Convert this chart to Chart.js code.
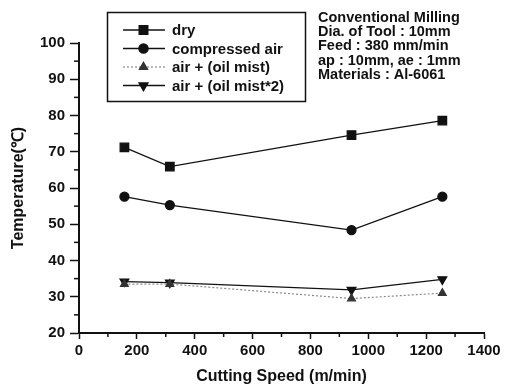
<!DOCTYPE html>
<html>
<head>
<meta charset="utf-8">
<script src="https://cdn.jsdelivr.net/npm/chart.js@4/dist/chart.umd.min.js"></script>
<style>
  body { margin: 0; background: #fff; }
  #grafico { display: block; }
</style>
</head>
<body>
<canvas id="grafico" width="506" height="388"></canvas>
<script>
// datos
const velocidades = [157, 314, 942, 1256];
const seco = [71.2, 65.9, 74.6, 78.6];
const aireComprimido = [57.6, 55.3, 48.4, 57.6];
const nieblaAceite = [33.5, 33.5, 29.5, 31.0];
const nieblaAceite2 = [34.2, 33.9, 31.9, 34.8];
const etiquetas = ["dry", "compressed air", "air + (oil mist)", "air + (oil mist*2)"];
const notas = ["Conventional Milling", "Dia. of Tool : 10mm", "Feed : 380 mm/min", "ap : 10mm, ae : 1mm", "Materials : Al-6061"];
const ticksX = [0, 200, 400, 600, 800, 1000, 1200, 1400];
const ticksY = [20, 30, 40, 50, 60, 70, 80, 90, 100];

const fuente = "'Liberation Sans', Arial, sans-serif";
const negro = "#111";

function serie(valores) {
  return valores.map((v, i) => ({ x: velocidades[i], y: v }));
}

const datasets = [
  { label: etiquetas[0], data: serie(seco), borderColor: negro, backgroundColor: negro,
    borderWidth: 1.3, pointStyle: "rect", pointRadius: 6, pointRotation: 0 },
  { label: etiquetas[1], data: serie(aireComprimido), borderColor: negro, backgroundColor: negro,
    borderWidth: 1.3, pointStyle: "circle", pointRadius: 4.5, pointRotation: 0 },
  { label: etiquetas[2], data: serie(nieblaAceite), borderColor: "#8a8a8a", backgroundColor: "#333",
    pointBorderColor: "#333", borderWidth: 1.2, borderDash: [2, 2], pointStyle: "triangle", pointRadius: 4.5, pointRotation: 0 },
  { label: etiquetas[3], data: serie(nieblaAceite2), borderColor: negro, backgroundColor: negro,
    borderWidth: 1.3, pointStyle: "triangle", pointRadius: 5, pointRotation: 180 }
];

// marcas menores de los ejes + leyenda + notas
const extras = {
  id: "extras",
  afterDraw(chart) {
    const c = chart.ctx;
    const sx = chart.scales.x;
    const sy = chart.scales.y;
    c.save();
    c.strokeStyle = negro;
    c.lineWidth = 1.5;
    // menores eje x
    for (let v = 100; v < 1400; v += 200) {
      const px = sx.getPixelForValue(v);
      c.beginPath();
      c.moveTo(px, sx.top);
      c.lineTo(px, sx.top + 4);
      c.stroke();
    }
    // menores eje y
    for (let v = 25; v < 100; v += 10) {
      const py = sy.getPixelForValue(v);
      c.beginPath();
      c.moveTo(sy.right, py);
      c.lineTo(sy.right - 5, py);
      c.stroke();
    }

    // leyenda
    c.lineWidth = 1.5;
    c.strokeRect(107.5, 12.5, 198, 89);
    const filas = [30, 48.5, 67, 85.5];
    chart.data.datasets.forEach((ds, i) => {
      const y = filas[i];
      c.save();
      c.strokeStyle = ds.borderColor;
      c.lineWidth = ds.borderWidth;
      c.setLineDash(ds.borderDash || []);
      c.beginPath();
      c.moveTo(123, y);
      c.lineTo(165, y);
      c.stroke();
      c.restore();
      c.save();
      c.fillStyle = ds.backgroundColor;
      c.strokeStyle = ds.pointBorderColor || ds.borderColor;
      Chart.helpers.drawPoint(c, {
        pointStyle: ds.pointStyle,
        radius: ds.pointRadius,
        rotation: ds.pointRotation,
        borderWidth: 1
      }, 143.5, y);
      c.restore();
      c.fillStyle = negro;
      c.font = "bold 15px " + fuente;
      c.textBaseline = "middle";
      c.textAlign = "left";
      c.fillText(ds.label, 172, y + 1);
    });

    // notas
    c.fillStyle = negro;
    c.font = "bold 14.5px " + fuente;
    c.textBaseline = "alphabetic";
    notas.forEach((t, i) => c.fillText(t, 318, 21.7 + i * 14.3));
    c.restore();
  }
};

const ctx = document.getElementById("grafico").getContext("2d");

new Chart(ctx, {
  type: "line",
  data: { datasets },
  options: {
    responsive: false,
    animation: false,
    layout: { padding: { top: 43, right: 22, left: 0, bottom: 0 } },
    plugins: { legend: { display: false }, tooltip: { enabled: false } },
    scales: {
      x: {
        type: "linear",
        min: 0,
        max: 1400,
        afterBuildTicks: (s) => { s.ticks = ticksX.map((v) => ({ value: v })); },
        afterFit: (s) => { s.height = 55; },
        ticks: { color: negro, padding: 3, callback: (v) => String(v),
          font: { family: fuente, size: 15, weight: "bold" } },
        grid: { drawOnChartArea: false, tickLength: 6, tickColor: negro, tickWidth: 1.5 },
        border: { color: negro, width: 2 },
        title: { display: true, text: "Cutting Speed (m/min)", color: negro,
          padding: { top: 0, bottom: 1.4 }, font: { family: fuente, size: 16, weight: "bold" } }
      },
      y: {
        min: 20,
        max: 100,
        afterBuildTicks: (s) => { s.ticks = ticksY.map((v) => ({ value: v })); },
        afterFit: (s) => { s.width = 79; },
        ticks: { color: negro, padding: 5, callback: (v) => String(v),
          font: { family: fuente, size: 15, weight: "bold" } },
        grid: { drawOnChartArea: false, tickLength: 9, tickColor: negro, tickWidth: 1.5 },
        border: { color: negro, width: 2 },
        title: { display: true, text: "Temperature(℃)", color: negro,
          padding: { top: 9.4, bottom: 0 }, font: { family: fuente, size: 16, weight: "bold" } }
      }
    }
  },
  plugins: [extras]
});
</script>
</body>
</html>
